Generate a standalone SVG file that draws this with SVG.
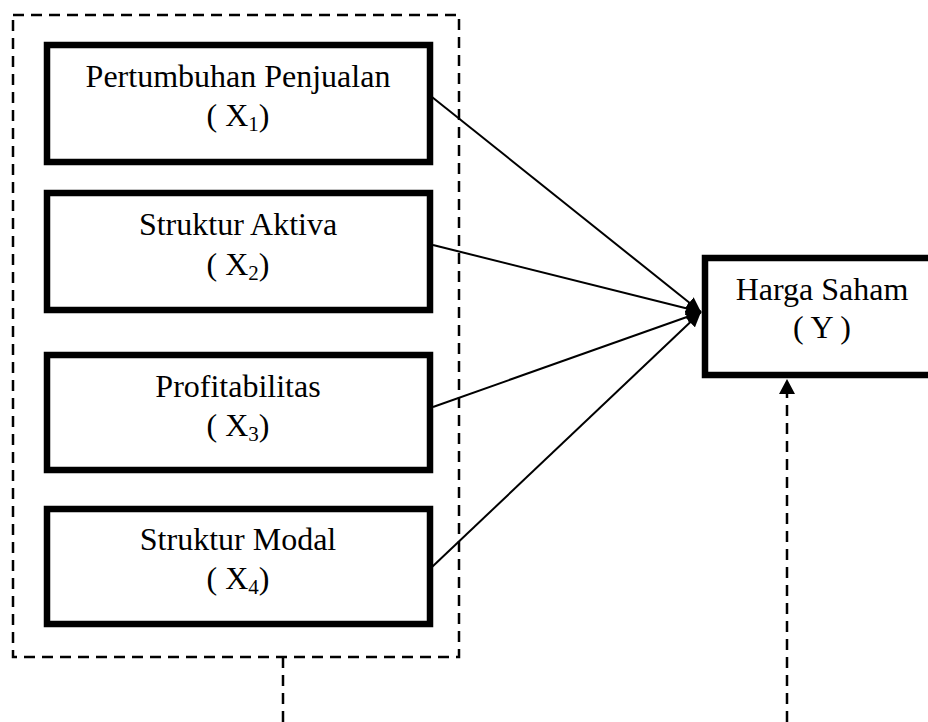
<svg xmlns="http://www.w3.org/2000/svg" width="928" height="722" viewBox="0 0 928 722">
<style>
.box{fill:#fff;stroke:#000;stroke-width:6.5}
.dash{fill:none;stroke:#000;stroke-width:2.5;stroke-dasharray:11 7}
.lbl{font-family:"Liberation Serif","Times New Roman",serif;font-size:32px;fill:#000;text-anchor:middle}
.sub{font-size:21px}
.conn{stroke:#000;stroke-width:2;fill:none}
</style>
<defs>
<marker id="ah" markerUnits="userSpaceOnUse" markerWidth="16" markerHeight="14" refX="15" refY="7" orient="auto">
<path d="M0,0 L15,7 L0,14 Z" fill="#000"/>
</marker>
</defs>
<rect id="group-x" class="dash" x="13" y="15" width="446" height="642"/>
<g id="x1">
<rect class="box" x="47" y="45" width="383" height="117"/>
<text class="lbl" x="238" y="87">Pertumbuhan Penjualan</text>
<text class="lbl" x="238" y="126">( X<tspan class="sub" dy="5">1</tspan><tspan dy="-5">)</tspan></text>
</g>
<g id="x2">
<rect class="box" x="47" y="193" width="383" height="117"/>
<text class="lbl" x="238" y="235">Struktur Aktiva</text>
<text class="lbl" x="238" y="275">( X<tspan class="sub" dy="5">2</tspan><tspan dy="-5">)</tspan></text>
</g>
<g id="x3">
<rect class="box" x="47" y="355" width="383" height="115"/>
<text class="lbl" x="238" y="397">Profitabilitas</text>
<text class="lbl" x="238" y="436">( X<tspan class="sub" dy="5">3</tspan><tspan dy="-5">)</tspan></text>
</g>
<g id="x4">
<rect class="box" x="47" y="509" width="383" height="115"/>
<text class="lbl" x="238" y="550">Struktur Modal</text>
<text class="lbl" x="238" y="589">( X<tspan class="sub" dy="5">4</tspan><tspan dy="-5">)</tspan></text>
</g>
<g id="y">
<rect class="box" x="705" y="258" width="240" height="117"/>
<text class="lbl" x="822" y="300">Harga Saham</text>
<text class="lbl" x="822" y="338">( Y )</text>
</g>
<g id="connectors">
<line class="conn" x1="432" y1="97" x2="701" y2="312" marker-end="url(#ah)"/>
<line class="conn" x1="433" y1="245" x2="701" y2="312" marker-end="url(#ah)"/>
<line class="conn" x1="433" y1="407" x2="701" y2="312" marker-end="url(#ah)"/>
<line class="conn" x1="432" y1="567" x2="701" y2="312" marker-end="url(#ah)"/>
<line class="dash" x1="283" y1="657" x2="283" y2="722"/>
<line class="dash" x1="787" y1="722" x2="787" y2="393"/>
<path d="M787,379 L795,394 L779,394 Z" fill="#000"/>
</g>
</svg>
